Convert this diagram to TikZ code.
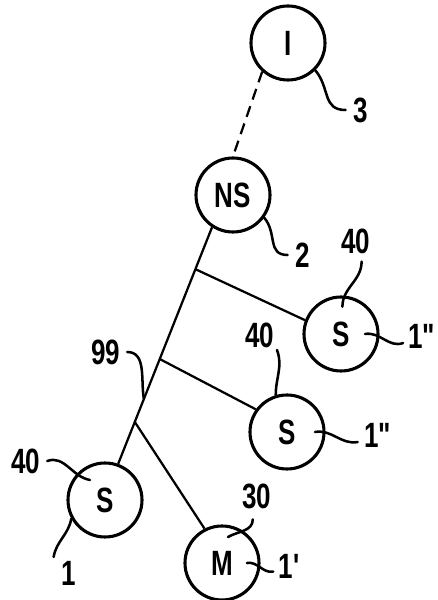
\documentclass[tikz,border=0pt]{standalone}
\usepackage{fontspec}
\setmainfont{Liberation Sans}[FakeStretch=0.74]
\usetikzlibrary{calc}
\tikzset{every picture/.style = {line width=1.6pt}}
\tikzset{elem/.style = {draw, shape=circle, line width=2.2pt, minimum size=1.85cm, inner sep=0, font=\fontsize{25}{25}\selectfont\bfseries}}
\tikzset{tag/.style = {inner sep=1, font=\fontsize{25}{25}\selectfont\bfseries}}
\tikzset{lead/.style = {line width=1.8pt, line cap=round}}

\begin{document}
\begin{tikzpicture}
  \useasboundingbox (0, 0) rectangle (10.95, 15);
  % elements
  \node[elem] (I) at (7.2, 13.925) {I};
  \node[elem] (NS) at (5.825, 10.125) {NS};
  \node[elem] (Su) at (8.525, 6.65) {S};
  \node[elem] (Sm) at (7.175, 4.2) {S};
  \node[elem] (S1) at (2.625, 2.5) {S};
  \node[elem] (M) at (5.55, 0.925) {M};
  % trunk and branches
  \draw[dash pattern=on 8pt off 5pt] (I.228) -- (NS.north);
  \draw (NS.237) -- (S1.70)
    coordinate[pos=0.177] (j1) coordinate[pos=0.557] (j2)
    coordinate[pos=0.726] (j99) coordinate[pos=0.823] (j3);
  \draw (j1) -- (Su.159);
  \draw (j2) -- (Sm.144);
  \draw (j3) -- (M.117);
  % reference numerals
  \node[tag] (l3) at (9.025, 12.25) {3};
  \node[tag] (l2) at (7.575, 8.625) {2};
  \node[tag] (l40a) at (8.9, 8.975) {40};
  \node[tag] (l1a) at (10.6, 6.6) {1\textquotedbl};
  \node[tag] (l40b) at (6.5, 6.625) {40};
  \node[tag] (l1b) at (9.5, 4.125) {1\textquotedbl};
  \node[tag] (l99) at (2.65, 6.2) {99};
  \node[tag] (l40c) at (0.65, 3.475) {40};
  \node[tag] (l1) at (1.725, 0.675) {1};
  \node[tag] (l30) at (6.425, 2.6) {30};
  \node[tag] (l1c) at (7.25, 0.85) {1\textquotesingle};
  % leaders
  \draw[lead] (I.-45) to[out=-50, in=180, looseness=1.2] ([xshift=-4pt]l3.west);
  \draw[lead] (NS.-36) to[out=-50, in=180, looseness=1.2] ([xshift=-4pt]l2.west);
  \draw[lead] ([xshift=4pt, yshift=-4pt]l40a.south) to[out=-90, in=90] ([xshift=1pt, yshift=-8pt]Su.north);
  \draw[lead] ($(Su.center)+(0.6,0)$) to[out=10, in=200] ([xshift=-2pt, yshift=-5pt]l1a.west);
  \draw[lead] (l40b.south east) to[out=-70, in=90] (Sm.107);
  \draw[lead] ($(Sm.center)+(0.7,0)$) to[out=10, in=190] ([xshift=-3pt, yshift=-5pt]l1b.west);
  \draw[lead] ([xshift=3pt]l99.east) to[out=0, in=100] (j99);
  \draw[lead] ([xshift=3pt]l40c.east) to[out=20, in=170] ($(S1.center)+(-0.375,0.5)$);
  \draw[lead] (S1.209) to[out=-100, in=80] ([xshift=-4pt, yshift=1pt]l1.north west);
  \draw[lead] ([xshift=-3pt, yshift=-6pt]l30.south) to[out=-90, in=30] ($(M.center)+(0.15,0.65)$);
  \draw[lead] ($(M.center)+(0.625,0)$) to[out=10, in=190] ([xshift=-2pt, yshift=-4pt]l1c.west);
\end{tikzpicture}
\end{document}
